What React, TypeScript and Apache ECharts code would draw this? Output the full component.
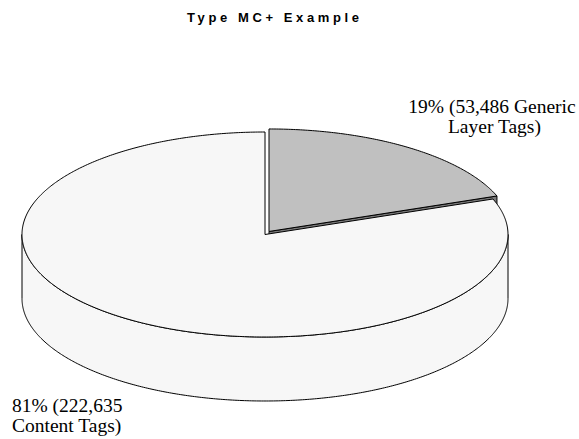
import React, { useEffect, useRef } from "react";
import * as echarts from "echarts";

const chartTitle = "Type MC+ Example";
const categories = ["Generic Layer Tags", "Content Tags"];
const values = [53486, 222635];
const topColors = ["#c0c0c0", "#f7f7f7"];
const sideColors = ["#7a7a7a", "#f7f7f7"];
const exploded = [true, false];

const CX = 265;
const CY = 234.5;
const RX = 243;
const RY = 102.5;
const DEPTH = 64;
const labelLayout = [
  { x: 492, y: 96.5, align: "center", width: 172 },
  { x: 12, y: 395, align: "left", width: 140 },
];

export default function App() {
  const ref = useRef<HTMLDivElement>(null);
  useEffect(() => {
    document.body.style.margin = "0";
    const chart = echarts.init(ref.current!, null, { renderer: "svg" });
    const total = values.reduce((s, v) => s + v, 0);
    let acc = 0;
    const data = values.map((v, i) => {
      const s = acc / total;
      acc += v;
      const e = acc / total;
      return { value: [s, e, v, i], name: categories[i] };
    });

    const pt = (th: number, dx: number, dy: number, down = 0) => [
      CX + dx + RX * Math.sin(th),
      CY + dy - RY * Math.cos(th) + down,
    ];
    const arc = (t0: number, t1: number, dx: number, dy: number, down = 0) => {
      const n = Math.max(2, Math.ceil(Math.abs(t1 - t0) / 0.01));
      const pts: number[][] = [];
      for (let k = 0; k <= n; k++) pts.push(pt(t0 + ((t1 - t0) * k) / n, dx, dy, down));
      return pts;
    };

    const renderItem = (params: any, api: any) => {
      const s = api.value(0) * Math.PI * 2;
      const e = api.value(1) * Math.PI * 2;
      const v = api.value(2);
      const i = api.value(3);
      const mid = (s + e) / 2;
      const dx = exploded[i] ? 7 * Math.sin(mid) : 0;
      const dy = exploded[i] ? -3.7 * Math.cos(mid) : 0;
      const apex = [CX + dx, CY + dy];
      const apexDown = [CX + dx, CY + dy + DEPTH];
      const line = { stroke: "#000", lineWidth: 1, lineJoin: "round" };
      const children: any[] = [];
      if (Math.sin(e) > 0.001) {
        const r = pt(e, dx, dy);
        const rd = pt(e, dx, dy, DEPTH);
        children.push({
          type: "polygon",
          shape: { points: [apex, r, rd, apexDown] },
          style: { fill: sideColors[i], ...line },
        });
      }
      if (Math.sin(s) < -0.001) {
        const r = pt(s, dx, dy);
        const rd = pt(s, dx, dy, DEPTH);
        children.push({
          type: "polygon",
          shape: { points: [apex, r, rd, apexDown] },
          style: { fill: sideColors[i], ...line },
        });
      }
      const w0 = Math.max(s, Math.PI / 2);
      const w1 = Math.min(e, (Math.PI * 3) / 2);
      if (w1 > w0) {
        const top = arc(w0, w1, dx, dy);
        const bottom = arc(w1, w0, dx, dy, DEPTH);
        children.push({
          type: "polygon",
          shape: { points: top.concat(bottom) },
          style: { fill: sideColors[i], ...line },
        });
      }
      children.push({
        type: "polygon",
        shape: { points: [apex].concat(arc(s, e, dx, dy)) },
        style: { fill: topColors[i], ...line },
      });
      const pct = Math.round((v / total) * 100);
      const lab = labelLayout[i];
      children.push({
        type: "text",
        x: lab.x,
        y: lab.y,
        style: {
          text: `${pct}% (${v.toLocaleString("en-US")} ${categories[i]})`,
          fill: "#000",
          fontFamily: "Liberation Serif",
          fontSize: 19.5,
          lineHeight: 20,
          align: lab.align,
          verticalAlign: "top",
          width: lab.width,
          overflow: "break",
        },
      });
      return { type: "group", children };
    };

    chart.setOption({
      animation: false,
      backgroundColor: "#ffffff",
      title: {
        text: chartTitle,
        left: 182,
        top: 6,
        textStyle: {
          fontFamily: "Liberation Sans",
          fontSize: 13,
          fontWeight: "bold",
          color: "#000",
        },
      },
      series: [
        {
          type: "custom",
          coordinateSystem: "none",
          renderItem,
          data,
        },
      ],
    });

    const spaceTitle = () => {
      const texts = ref.current?.querySelectorAll("text") || [];
      texts.forEach((t: any) => {
        if (t.textContent === chartTitle) t.style.letterSpacing = "3.6px";
      });
    };
    spaceTitle();
    chart.on("finished", spaceTitle);
    const timer = setTimeout(spaceTitle, 50);

    return () => {
      clearTimeout(timer);
      chart.dispose();
    };
  }, []);

  return <div ref={ref} style={{ width: 579, height: 439 }} />;
}
